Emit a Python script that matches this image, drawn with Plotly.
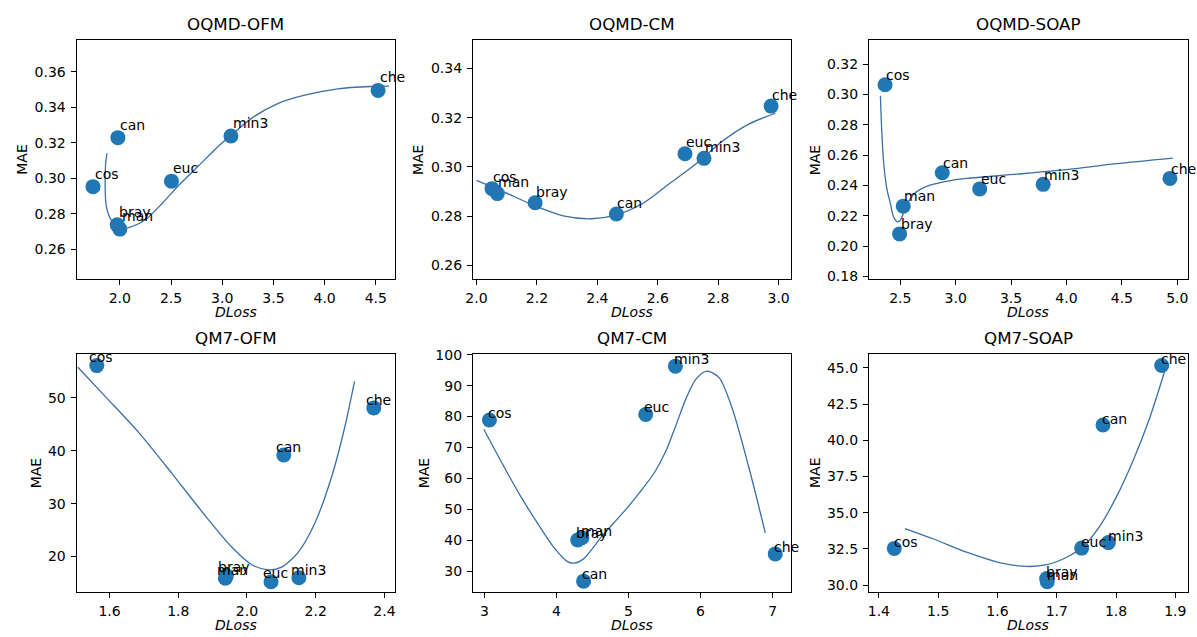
import plotly.graph_objects as go

# ---------------- data ----------------
names = ["bray", "can", "che", "cos", "euc", "man", "min3"]
titles = ["OQMD-OFM", "OQMD-CM", "OQMD-SOAP", "QM7-OFM", "QM7-CM", "QM7-SOAP"]

oqmd_ofm_dloss = [1.974, 1.981, 4.522, 1.738, 2.504, 2.000, 3.085]
oqmd_ofm_mae = [0.2738, 0.3229, 0.3495, 0.2953, 0.2984, 0.2714, 0.3238]
oqmd_ofm_fit_x = [1.874, 1.861, 1.857, 1.858, 1.866, 1.884, 1.910, 1.948, 2.013, 2.126, 2.255,
                  2.417, 2.578, 2.771, 2.965, 3.095, 3.289, 3.547, 3.805, 4.128, 4.451, 4.629]
oqmd_ofm_fit_y = [0.3141, 0.3080, 0.3026, 0.2916, 0.2850, 0.2806, 0.2770, 0.2740, 0.2716, 0.2730, 0.2769,
                  0.2861, 0.2962, 0.3072, 0.3182, 0.3247, 0.3339, 0.3422, 0.3468, 0.3504, 0.3517, 0.3519]

oqmd_cm_dloss = [2.194, 2.463, 2.975, 2.0515, 2.690, 2.069, 2.753]
oqmd_cm_mae = [0.2855, 0.2809, 0.3247, 0.2912, 0.3054, 0.2892, 0.3035]
oqmd_cm_fit_x = [2.000, 2.090, 2.200, 2.287, 2.381, 2.463, 2.550, 2.638, 2.726, 2.814, 2.901, 2.989]
oqmd_cm_fit_y = [0.2946, 0.2899, 0.2839, 0.2802, 0.2790, 0.2806, 0.2852, 0.2932, 0.3012, 0.3105, 0.3174, 0.3218]

oqmd_soap_dloss = [2.494, 2.879, 4.934, 2.363, 3.217, 2.527, 3.790]
oqmd_soap_mae = [0.2080, 0.2483, 0.2446, 0.3064, 0.2377, 0.2263, 0.2407]
oqmd_soap_fit_x = [2.321, 2.333, 2.351, 2.381, 2.410, 2.440, 2.476, 2.500, 2.536, 2.566, 2.596, 2.625,
                   2.685, 2.775, 2.835, 2.954, 3.103, 3.551, 3.999, 4.447, 4.961]
oqmd_soap_fit_y = [0.2991, 0.2758, 0.2543, 0.2371, 0.2285, 0.2192, 0.2160, 0.2170, 0.2230, 0.2280, 0.2317, 0.2345,
                   0.2375, 0.2403, 0.2414, 0.2432, 0.2446, 0.2474, 0.2504, 0.2543, 0.2580]

qm7_ofm_dloss = [1.940, 2.107, 2.369, 1.563, 2.070, 1.937, 2.151]
qm7_ofm_mae = [16.4, 39.2, 48.1, 56.1, 15.25, 15.9, 16.0]
qm7_ofm_fit_x = [1.508, 1.590, 1.687, 1.783, 1.880, 1.957, 2.014, 2.063, 2.101, 2.149, 2.198, 2.246, 2.284, 2.313]
qm7_ofm_fit_y = [55.8, 50.1, 43.3, 35.6, 27.6, 21.7, 18.46, 17.5, 18.0, 20.8, 26.4, 35.0, 44.3, 53.1]

qm7_cm_dloss = [4.294, 4.376, 7.037, 3.069, 5.239, 4.353, 5.651]
qm7_cm_mae = [40.1, 26.8, 35.6, 78.9, 80.7, 40.8, 96.3]
qm7_cm_fit_x = [2.991, 3.275, 3.505, 3.734, 3.963, 4.147, 4.239, 4.376, 4.651, 4.927, 5.156, 5.363, 5.522,
                5.660, 5.798, 5.936, 6.087, 6.257, 6.440, 6.670, 6.899]
qm7_cm_fit_y = [75.9, 63.6, 54.1, 45.6, 37.7, 33.2, 32.6, 34.0, 41.9, 49.0, 55.5, 62.0, 69.0,
                77.3, 85.8, 92.1, 94.7, 92.6, 82.6, 63.6, 42.4]

qm7_soap_dloss = [1.683, 1.778, 1.877, 1.426, 1.742, 1.684, 1.787]
qm7_soap_mae = [30.45, 41.05, 45.16, 32.53, 32.55, 30.22, 32.93]
qm7_soap_fit_x = [1.4441, 1.4933, 1.5492, 1.6050, 1.6497, 1.6832, 1.7168, 1.7447, 1.7726, 1.8006, 1.8285,
                  1.8564, 1.8816]
qm7_soap_fit_y = [33.9, 33.16, 32.25, 31.53, 31.28, 31.40, 31.92, 32.66, 34.06, 36.09, 38.57, 41.50, 44.71]

panels = [
    (oqmd_ofm_dloss, oqmd_ofm_mae, oqmd_ofm_fit_x, oqmd_ofm_fit_y),
    (oqmd_cm_dloss, oqmd_cm_mae, oqmd_cm_fit_x, oqmd_cm_fit_y),
    (oqmd_soap_dloss, oqmd_soap_mae, oqmd_soap_fit_x, oqmd_soap_fit_y),
    (qm7_ofm_dloss, qm7_ofm_mae, qm7_ofm_fit_x, qm7_ofm_fit_y),
    (qm7_cm_dloss, qm7_cm_mae, qm7_cm_fit_x, qm7_cm_fit_y),
    (qm7_soap_dloss, qm7_soap_mae, qm7_soap_fit_x, qm7_soap_fit_y),
]

# ---------------- styling / layout ----------------
W, H = 1197, 637
FONT = "DejaVu Sans"
col_px = [(70.0, 390.7), (469.0, 789.3), (867.7, 1188.5)]
row_px = [(34.0, 277.3), (354.3, 596.7)]
x_ranges = [[1.577, 4.688], [1.988, 3.041], [2.217, 5.093],
            [1.504, 2.431], [2.839, 7.256], [1.3832, 1.9206]]
y_ranges = [[0.2435, 0.3777], [0.2547, 0.3514], [0.1785, 0.3357],
            [13.39, 58.28], [23.44, 100.2], [29.55, 45.95]]
x_ticks = [(2.0, 0.5, ".1f"), (2.0, 0.2, ".1f"), (2.5, 0.5, ".1f"),
           (1.6, 0.2, ".1f"), (3, 1, "d"), (1.4, 0.1, ".1f")]
y_ticks = [(0.26, 0.02, ".2f"), (0.26, 0.02, ".2f"), (0.18, 0.02, ".2f"),
           (20, 10, "d"), (30, 10, "d"), (30.0, 2.5, ".1f")]
# label offsets (px): (dx, dy of text baseline above point centre)
label_off = [(0.7, 7.5), (0.0, 5.7), (0.0, 4.3), (-9.0, 2.7), (-2.3, 1.7), (-1.7, 1.0)]
# distance of y-label baseline from axis (px)
ylab_off = [48.3, 48.3, 47.0, 35.0, 43.3, 47.7]

MARKER = "#1f77b4"
LINE = "#3a6fa6"

fig = go.Figure()
annotations = []
layout = {}

for i, (dl, mae, fx, fy) in enumerate(panels):
    r, c = divmod(i, 3)
    x0, x1 = col_px[c]
    yt, yb = row_px[r]
    xd = [x0 / W, x1 / W]
    yd = [1 - yb / H, 1 - yt / H]
    xa = "x" if i == 0 else f"x{i+1}"
    ya = "y" if i == 0 else f"y{i+1}"
    xkey = "xaxis" if i == 0 else f"xaxis{i+1}"
    ykey = "yaxis" if i == 0 else f"yaxis{i+1}"
    common = dict(showline=True, linecolor="black", linewidth=1, mirror=True,
                  ticks="outside", ticklen=5, tickwidth=1, tickcolor="black",
                  showgrid=False, zeroline=False, ticklabelstandoff=2,
                  tickfont=dict(family=FONT, size=14, color="black"))
    t0, dt, fmt = x_ticks[i]
    layout[xkey] = dict(domain=xd, range=x_ranges[i], anchor=ya, tick0=t0, dtick=dt,
                        tickformat=fmt, **common)
    t0, dt, fmt = y_ticks[i]
    layout[ykey] = dict(domain=yd, range=y_ranges[i], anchor=xa, tick0=t0, dtick=dt,
                        tickformat=fmt, **common)

    fig.add_trace(go.Scatter(x=dl, y=mae, mode="markers", xaxis=xa, yaxis=ya,
                             marker=dict(color=MARKER, size=15, line=dict(width=0)),
                             showlegend=False, cliponaxis=False))
    fig.add_trace(go.Scatter(x=fx, y=fy, mode="lines", xaxis=xa, yaxis=ya,
                             line=dict(color=LINE, width=1.3, shape="spline", smoothing=0.8),
                             showlegend=False))

    dx, dy = label_off[i]
    for n, xv, yv in zip(names, dl, mae):
        annotations.append(dict(x=xv, y=yv, xref=xa, yref=ya, text=n, showarrow=False,
                                xanchor="left", yanchor="bottom",
                                xshift=dx - 1, yshift=dy - 4.5,
                                font=dict(family=FONT, size=14, color="black")))
    # title
    annotations.append(dict(x=(xd[0] + xd[1]) / 2, y=yd[1], xref="paper", yref="paper",
                            text=titles[i], showarrow=False, xanchor="center", yanchor="bottom",
                            yshift=4, font=dict(family=FONT, size=16.7, color="black")))
    # x label
    annotations.append(dict(x=(xd[0] + xd[1]) / 2, y=yd[0], xref="paper", yref="paper",
                            text="<i>DLoss</i>", showarrow=False, xanchor="center", yanchor="top",
                            yshift=-23, font=dict(family=FONT, size=14, color="black")))
    # y label
    annotations.append(dict(x=xd[0], y=(yd[0] + yd[1]) / 2, xref="paper", yref="paper",
                            text="MAE", showarrow=False, xanchor="right", yanchor="middle",
                            textangle=-90, xshift=-(ylab_off[i] - 4),
                            font=dict(family=FONT, size=14, color="black")))

fig.update_layout(width=W, height=H, margin=dict(l=0, r=0, t=0, b=0),
                  paper_bgcolor="white", plot_bgcolor="white",
                  annotations=annotations, **layout)
fig.write_html("out.html")
